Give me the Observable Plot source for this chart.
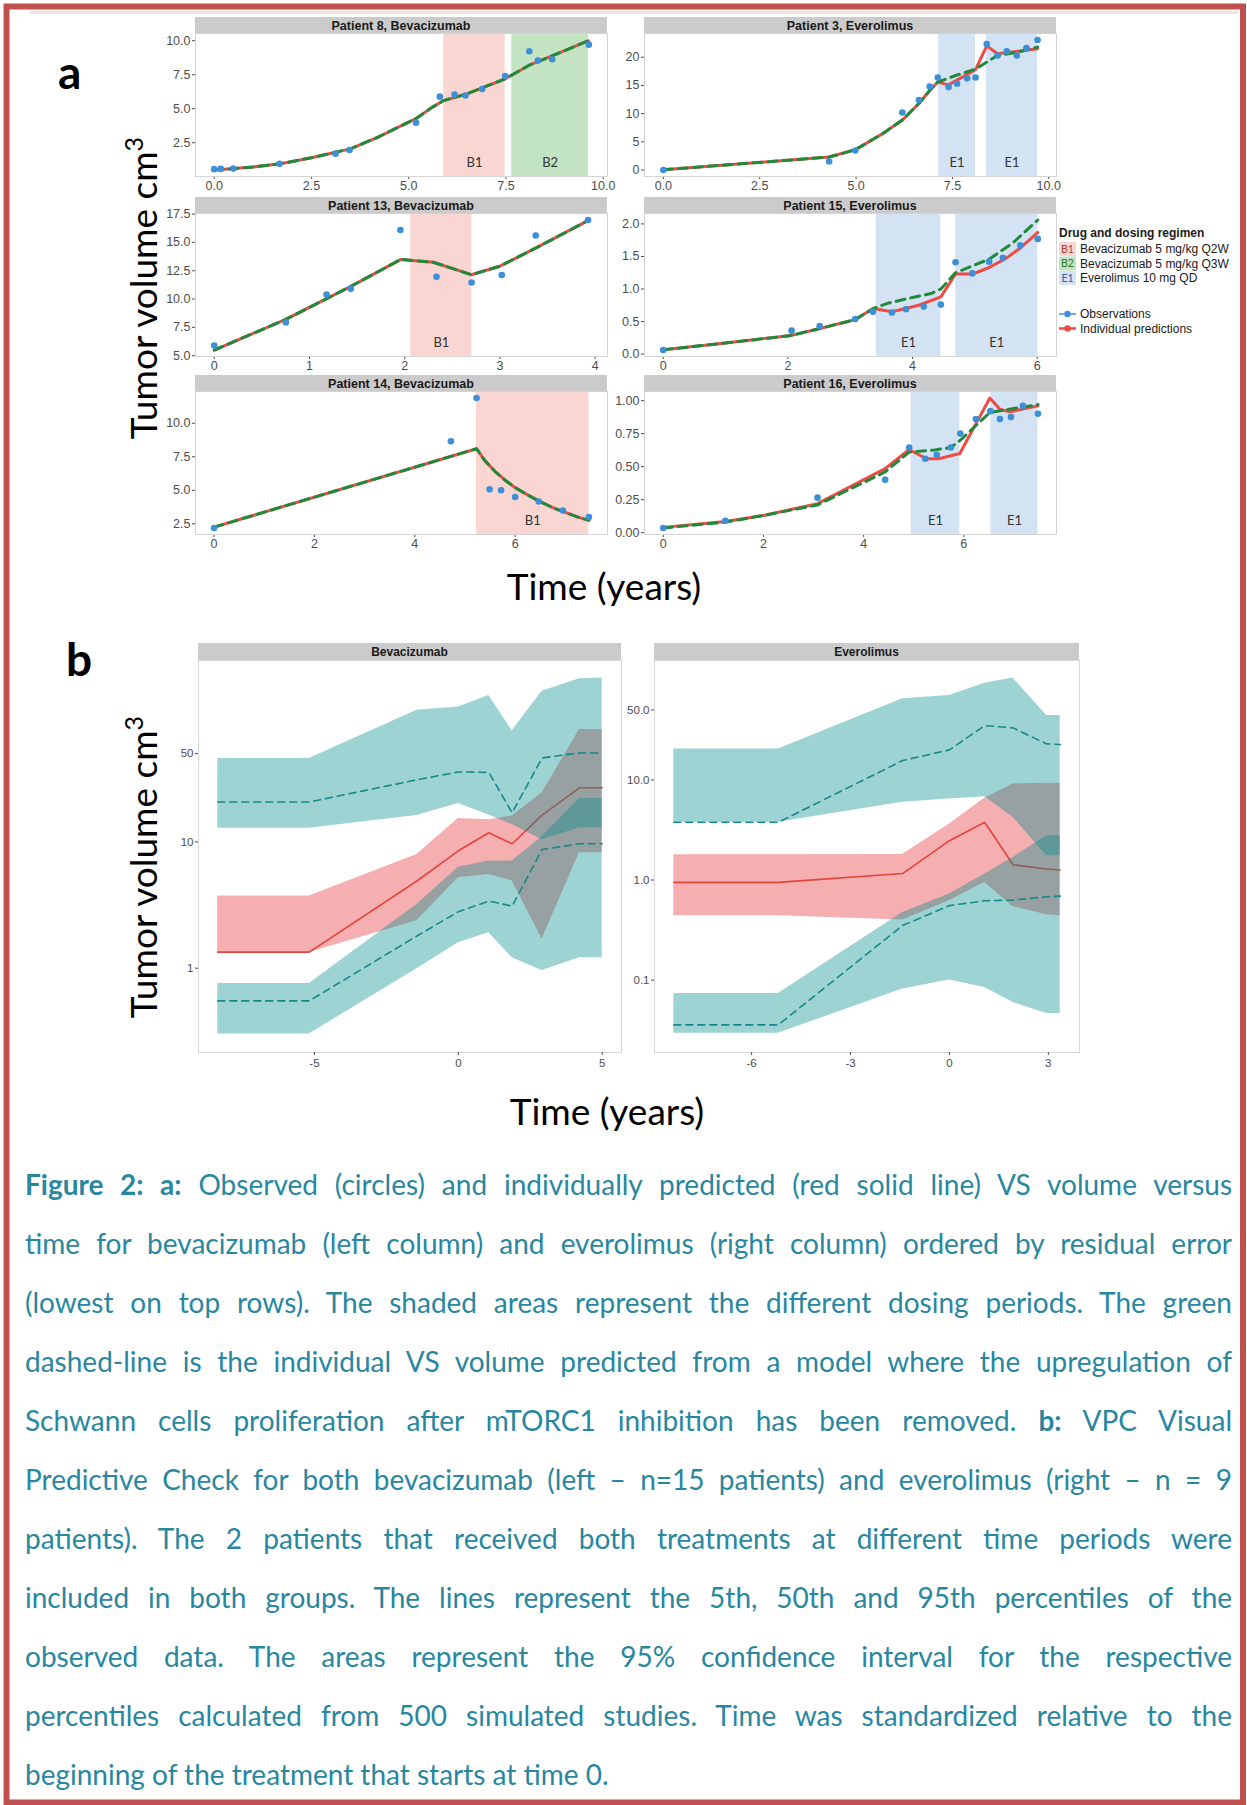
<!DOCTYPE html>
<html><head><meta charset="utf-8">
<script src="https://cdn.jsdelivr.net/npm/d3@7"></script>
<script src="https://cdn.jsdelivr.net/npm/@observablehq/plot@0.6"></script>
<style>
html,body{margin:0;padding:0;background:#fff;}
#root{position:relative;width:1247px;height:1805px;overflow:hidden;background:#fff;}
.pl{position:absolute;}
.pl svg{display:block;max-width:none;}
</style></head>
<body><div id="root"></div>
<script>
// ---------------- Panel a: individual fits ----------------
const p8ObsTime = [0,0.17,0.49,1.68,3.12,3.48,5.19,5.80,6.18,6.46,6.89,7.48,8.10,8.32,8.69,9.63];
const p8ObsVol  = [0.56,0.58,0.6,0.95,1.70,1.97,3.97,5.89,6.04,5.97,6.45,7.40,9.23,8.55,8.64,9.71];
const p8PredTime = [0,0.5,1,1.7,2.5,3.5,4.2,5.2,5.6,5.9,6.5,7.48,8.1,8.7,9.62];
const p8PredVol  = [0.5,0.6,0.72,0.95,1.4,2.05,2.9,4.3,5.1,5.6,6.1,7.2,8.2,8.9,10.0];
const p8AltTime = p8PredTime;
const p8AltVol  = p8PredVol;
const p8PerLabel = ["B1","B2"], p8PerStart = [5.9,7.65], p8PerEnd = [7.48,9.62];

const p3ObsTime = [0,4.30,4.98,6.20,6.63,6.91,7.12,7.40,7.62,7.88,8.10,8.39,8.67,8.91,9.17,9.42,9.71];
const p3ObsVol  = [0,1.52,3.45,10.2,12.4,14.8,16.4,14.7,15.3,16.25,16.4,22.35,20.3,21.05,20.3,21.6,23.06];
const p3PredTime = [0,4.3,4.98,5.68,6.2,6.63,6.91,7.12,7.4,8.1,8.39,8.67,9.71];
const p3PredVol  = [0.05,2.3,3.6,6.4,8.85,11.8,14.1,15.6,15.1,17.8,22.0,20.6,21.5];
const p3AltTime = [0,4.3,4.98,5.68,6.2,6.63,6.91,7.12,7.6,8.1,8.67,9.2,9.71];
const p3AltVol  = [0.05,2.3,3.6,6.4,8.85,11.8,14.1,15.6,16.8,17.9,20.3,20.9,21.8];
const p3PerLabel = ["E1","E1"], p3PerStart = [7.14,8.38], p3PerEnd = [8.10,9.71];

const p13ObsTime = [0,0.752,1.18,1.434,1.955,2.334,2.703,3.02,3.376,3.926];
const p13ObsVol  = [5.89,7.94,10.39,10.9,16.09,11.97,11.46,12.12,15.61,16.98];
const p13PredTime = [0,0.75,1.43,1.96,2.3,2.7,3.0,3.4,3.93];
const p13PredVol  = [5.5,8.2,11.1,13.5,13.25,12.15,12.9,14.6,16.95];
const p13AltTime = p13PredTime;
const p13AltVol  = p13PredVol;
const p13PerLabel = ["B1"], p13PerStart = [2.064], p13PerEnd = [2.706];

const p15ObsTime = [0,2.06,2.51,3.08,3.365,3.67,3.895,4.18,4.455,4.69,4.96,5.23,5.45,5.73,6.01];
const p15ObsVol  = [0.063,0.36,0.43,0.54,0.65,0.64,0.69,0.73,0.76,1.41,1.24,1.42,1.48,1.67,1.77];
const p15PredTime = [0,1,2.06,2.5,3.08,3.37,3.67,4.1,4.455,4.69,4.96,5.23,5.5,5.73,6.01];
const p15PredVol  = [0.065,0.17,0.287,0.39,0.53,0.70,0.65,0.75,0.88,1.23,1.23,1.33,1.47,1.63,1.87];
const p15AltTime = [0,1,2.06,2.5,3.08,3.37,3.6,4.0,4.3,4.455,4.69,5.23,5.6,6.01];
const p15AltVol  = [0.065,0.17,0.287,0.39,0.53,0.70,0.78,0.87,0.93,1.0,1.25,1.46,1.7,2.06];
const p15PerLabel = ["E1","E1"], p15PerStart = [3.418,4.693], p15PerEnd = [4.455,6.01];

const p14ObsTime = [0,4.72,5.23,5.49,5.72,6.0,6.47,6.95,7.47];
const p14ObsVol  = [2.18,8.66,11.88,5.07,5.0,4.5,4.16,3.49,3.0];
const p14PredTime = [0,5.23,5.4,5.6,5.8,6.0,6.25,6.5,6.75,7.0,7.25,7.47];
const p14PredVol  = [2.25,8.1,7.2,6.4,5.75,5.2,4.65,4.15,3.7,3.35,3.0,2.75];
const p14AltTime = p14PredTime;
const p14AltVol  = p14PredVol;
const p14PerLabel = ["B1"], p14PerStart = [5.23], p14PerEnd = [7.47];

const p16ObsTime = [0,1.24,3.08,4.43,4.91,5.23,5.46,5.74,5.93,6.24,6.53,6.72,6.94,7.18,7.48];
const p16ObsVol  = [0.035,0.09,0.265,0.40,0.645,0.56,0.59,0.645,0.75,0.86,0.92,0.86,0.875,0.96,0.90];
const p16PredTime = [0,1.24,2,3.08,4.43,4.91,5.25,5.5,5.92,6.52,6.72,6.92,7.48];
const p16PredVol  = [0.04,0.085,0.13,0.22,0.485,0.63,0.56,0.56,0.60,1.02,0.935,0.915,0.96];
const p16AltTime = [0,1.24,2,3.08,4.43,4.91,5.4,5.74,5.93,6.52,7.0,7.48];
const p16AltVol  = [0.035,0.08,0.13,0.21,0.46,0.61,0.625,0.645,0.70,0.91,0.94,0.97];
const p16PerLabel = ["E1","E1"], p16PerStart = [4.95,6.54], p16PerEnd = [5.92,7.48];

const ticks0to10 = [0,2.5,5,7.5,10];
const ticks0to6 = [0,2,4,6];

// ---------------- Panel b: VPC ----------------
const bevTime   = [-8.36,-5.18,-1.44,0,1.06,1.87,2.91,4.21,5.0];
const bevObs5   = [0.551,0.551,1.8,2.8,3.4,3.1,8.7,9.66,9.66];
const bevObs50  = [1.34,1.34,4.9,8.5,11.8,9.66,16.3,26.8,26.8];
const bevObs95  = [20.7,20.7,31,35.8,35.5,17.0,46.2,50.6,50.6];
const bevCI5Lo  = [0.301,0.301,0.99,1.59,1.91,1.21,0.96,1.21,1.21];
const bevCI5Hi  = [0.755,0.755,3.2,6.3,7.05,7.05,11.0,22.1,22.1];
const bevCI50Lo = [1.33,1.33,2.37,5.2,5.53,4.9,1.70,8.2,8.2];
const bevCI50Hi = [3.73,3.73,7.96,15.3,15.0,16.0,24.4,77.5,77.5];
const bevCI95Lo = [12.8,12.8,16.2,20.1,16.3,13.7,10.4,12.9,12.9];
const bevCI95Hi = [45.7,45.7,110,117,144,76,156,196,198];
const bevYTicks = [1,10,50], bevYLabels = ["1","10","50"];
const bevXTicks = [-5,0,5], bevXLabels = ["-5","0","5"];

const evTime   = [-8.36,-5.19,-1.42,0,1.07,1.93,2.95,3.36];
const evObs5   = [0.0357,0.0357,0.351,0.555,0.62,0.63,0.68,0.69];
const evObs50  = [0.946,0.946,1.16,2.47,3.77,1.42,1.29,1.26];
const evObs95  = [3.77,3.77,15.6,19.95,34.9,33.1,22.9,22.6];
const evCI5Lo  = [0.0294,0.0294,0.0813,0.1,0.0843,0.0597,0.0464,0.0464];
const evCI5Hi  = [0.0735,0.0735,0.474,0.724,1.15,1.68,2.77,2.77];
const evCI50Lo = [0.44,0.44,0.398,0.62,0.946,0.54,0.45,0.44];
const evCI50Hi = [1.79,1.79,1.8,3.63,6.55,9.12,9.25,9.25];
const evCI95Lo = [3.77,3.77,5.97,6.46,6.8,4.23,1.75,1.75];
const evCI95Hi = [20.4,20.4,64.6,69.7,92.5,104,44,44];
const evYTicks = [0.1,1,10,50], evYLabels = ["0.1","1.0","10.0","50.0"];
const evXTicks = [-6,-3,0,3], evXLabels = ["-6","-3","0","3"];

const legendRegimenKeys = ["B1","B2","E1"];
const legendRegimenText = ["Bevacizumab 5 mg/kg Q2W","Bevacizumab 5 mg/kg Q3W","Everolimus 10 mg QD"];
const legendSeriesText = ["Observations","Individual predictions"];

const captionLines = [
 "Figure 2: a: Observed (circles) and individually predicted (red solid line) VS volume versus",
 "time for bevacizumab (left column) and everolimus (right column) ordered by residual error",
 "(lowest on top rows). The shaded areas represent the different dosing periods. The green",
 "dashed-line is the individual VS volume predicted from a model where the upregulation of",
 "Schwann cells proliferation after mTORC1 inhibition has been removed. b: VPC Visual",
 "Predictive Check for both bevacizumab (left \u2013 n=15 patients) and everolimus (right \u2013 n = 9",
 "patients). The 2 patients that received both treatments at different time periods were",
 "included in both groups. The lines represent the 5th, 50th and 95th percentiles of the",
 "observed data. The areas represent the 95% confidence interval for the respective",
 "percentiles calculated from 500 simulated studies. Time was standardized relative to the",
 "beginning of the treatment that starts at time 0."
];

// ---------------- Layout & styles ----------------
const W = 1247, H = 1805;
const root = document.getElementById("root");
const regFill = {B1:"#f9d6d2", B2:"#c2e4c3", E1:"#d4e3f3"};
const regText = {B1:"#a8403c", B2:"#2d7a34", E1:"#2f5f9c"};
const tickFont = "'Liberation Sans', Arial, Helvetica, sans-serif";
const bigFont = "Lato, 'Open Sans', sans-serif";

const ov = d3.select(root).append("svg")
  .attr("width", W).attr("height", H)
  .style("position","absolute").style("left","0px").style("top","0px");

function addPlot(node, left, top, w, h) {
  const div = document.createElement("div");
  div.className = "pl";
  div.style.left = left + "px"; div.style.top = top + "px";
  div.style.width = w + "px"; div.style.height = h + "px";
  div.appendChild(node);
  root.appendChild(div);
}

function strip(x, y, w, h, label, fs) {
  ov.append("rect").attr("x", x).attr("y", y).attr("width", w).attr("height", h).attr("fill", "#cbcbcb");
  ov.append("text").attr("x", x + w/2).attr("y", y + h/2).attr("dy","0.36em")
    .attr("text-anchor","middle").attr("font-family", tickFont).attr("font-weight","bold")
    .attr("font-size", fs).attr("fill","#1a1a1a").text(label);
}

const COL_LEFT = [195, 644], PLOT_W = 412;
const ROW_TOP = [17, 197, 375], STRIP_H = 16, PLOT_H = 143;

function zip(a, b) { return a.map((t, i) => ({t, v: b[i]})); }

function patientPanel(p) {
  const left = COL_LEFT[p.col], stripTop = ROW_TOP[p.row], top = stripTop + STRIP_H;
  strip(left, stripTop, PLOT_W, STRIP_H, p.title, 12.5);
  const ML = 44, MR = 4, MB = 26;
  const periods = p.perLabel.map((l, i) => ({label: l, start: p.perStart[i], end: p.perEnd[i]}));
  const marks = [];
  for (const k of ["B1","B2","E1"]) {
    const sub = periods.filter(d => d.label === k);
    if (sub.length) marks.push(Plot.rect(sub, {x1: "start", x2: "end", fill: regFill[k]}));
  }
  marks.push(
    Plot.text(periods, {x: d => (d.start + d.end) / 2, text: "label", frameAnchor: "bottom", lineAnchor: "middle",
      dy: -14, fill: "#333", fontSize: 13, fontFamily: bigFont}),
    Plot.frame({stroke: "#d4d4d4"}),
    Plot.line(zip(p.predT, p.predV), {x: "t", y: "v", stroke: "#ef4b44", strokeWidth: 3}),
    Plot.line(zip(p.altT, p.altV), {x: "t", y: "v", stroke: "#1f8a3c", strokeWidth: 3, strokeDasharray: "9,6"}),
    Plot.dot(zip(p.obsT, p.obsV), {x: "t", y: "v", r: 3.3, fill: "#3d8fd8", stroke: "none"})
  );
  const chart = Plot.plot({
    width: PLOT_W + ML + MR, height: PLOT_H + MB,
    marginLeft: ML, marginRight: MR, marginTop: 0, marginBottom: MB,
    style: {fontFamily: tickFont, fontSize: "12.5px", color: "#4d4d4d", background: "transparent", overflow: "visible"},
    x: {domain: p.xDomain, ticks: p.xTicks, tickFormat: d3.format(p.xFmt), tickSize: 3, tickPadding: 2, label: null},
    y: {domain: p.yDomain, ticks: p.yTicks, tickFormat: d3.format(p.yFmt), tickSize: 3, tickPadding: 2, label: null},
    marks
  });
  addPlot(chart, left - ML, top, PLOT_W + ML + MR, PLOT_H + MB);
}

patientPanel({title: "Patient 8, Bevacizumab", col: 0, row: 0, xDomain: [-0.48, 10.11], xTicks: ticks0to10, xFmt: ".1f",
  yDomain: [0.02, 10.53], yTicks: [2.5,5,7.5,10], yFmt: ".1f", obsT: p8ObsTime, obsV: p8ObsVol, predT: p8PredTime, predV: p8PredVol,
  altT: p8AltTime, altV: p8AltVol, perLabel: p8PerLabel, perStart: p8PerStart, perEnd: p8PerEnd});
patientPanel({title: "Patient 3, Everolimus", col: 1, row: 0, xDomain: [-0.49, 10.2], xTicks: ticks0to10, xFmt: ".1f",
  yDomain: [-1.15, 24.2], yTicks: [0,5,10,15,20], yFmt: "d", obsT: p3ObsTime, obsV: p3ObsVol, predT: p3PredTime, predV: p3PredVol,
  altT: p3AltTime, altV: p3AltVol, perLabel: p3PerLabel, perStart: p3PerStart, perEnd: p3PerEnd});
patientPanel({title: "Patient 13, Bevacizumab", col: 0, row: 1, xDomain: [-0.197, 4.13], xTicks: [0,1,2,3,4], xFmt: "d",
  yDomain: [4.93, 17.55], yTicks: [5,7.5,10,12.5,15,17.5], yFmt: ".1f", obsT: p13ObsTime, obsV: p13ObsVol, predT: p13PredTime, predV: p13PredVol,
  altT: p13AltTime, altV: p13AltVol, perLabel: p13PerLabel, perStart: p13PerStart, perEnd: p13PerEnd});
patientPanel({title: "Patient 15, Everolimus", col: 1, row: 1, xDomain: [-0.30, 6.31], xTicks: ticks0to6, xFmt: "d",
  yDomain: [-0.037, 2.16], yTicks: [0,0.5,1,1.5,2], yFmt: ".1f", obsT: p15ObsTime, obsV: p15ObsVol, predT: p15PredTime, predV: p15PredVol,
  altT: p15AltTime, altV: p15AltVol, perLabel: p15PerLabel, perStart: p15PerStart, perEnd: p15PerEnd});
patientPanel({title: "Patient 14, Bevacizumab", col: 0, row: 2, xDomain: [-0.37, 7.84], xTicks: ticks0to6, xFmt: "d",
  yDomain: [1.70, 12.37], yTicks: [2.5,5,7.5,10], yFmt: ".1f", obsT: p14ObsTime, obsV: p14ObsVol, predT: p14PredTime, predV: p14PredVol,
  altT: p14AltTime, altV: p14AltVol, perLabel: p14PerLabel, perStart: p14PerStart, perEnd: p14PerEnd});
patientPanel({title: "Patient 16, Everolimus", col: 1, row: 2, xDomain: [-0.374, 7.85], xTicks: ticks0to6, xFmt: "d",
  yDomain: [-0.014, 1.069], yTicks: [0,0.25,0.5,0.75,1], yFmt: ".2f", obsT: p16ObsTime, obsV: p16ObsVol, predT: p16PredTime, predV: p16PredVol,
  altT: p16AltTime, altV: p16AltVol, perLabel: p16PerLabel, perStart: p16PerStart, perEnd: p16PerEnd});

// ---------------- VPC panels ----------------
function vpcPanel(v) {
  const stripTop = 643, sH = 17, top = stripTop + sH, h = 392;
  strip(v.left, stripTop, v.w, sH, v.title, 12);
  const ML = 38, MR = 4, MB = 26;
  const rows = v.time.map((t, i) => ({t, o5: v.o5[i], o50: v.o50[i], o95: v.o95[i],
    c5lo: v.c5lo[i], c5hi: v.c5hi[i], c50lo: v.c50lo[i], c50hi: v.c50hi[i], c95lo: v.c95lo[i], c95hi: v.c95hi[i]}));
  const yLab = new Map(v.yTicks.map((y, i) => [y, v.yLabels[i]]));
  const xLab = new Map(v.xTicks.map((x, i) => [x, v.xLabels[i]]));
  const chart = Plot.plot({
    width: v.w + ML + MR, height: h + MB, marginLeft: ML, marginRight: MR, marginTop: 0, marginBottom: MB,
    style: {fontFamily: tickFont, fontSize: "11.5px", color: "#4d4d4d", background: "transparent", overflow: "visible"},
    x: {domain: v.xDomain},
    y: {type: "log", domain: v.yDomain},
    marks: [
      Plot.areaY(rows, {x: "t", y1: "c50lo", y2: "c50hi", fill: "#e31a1c", fillOpacity: 0.35}),
      Plot.line(rows, {x: "t", y: "o50", stroke: "#e4443b", strokeWidth: 1.6}),
      Plot.areaY(rows, {x: "t", y1: "c5lo", y2: "c5hi", fill: "#008b8b", fillOpacity: 0.38}),
      Plot.areaY(rows, {x: "t", y1: "c95lo", y2: "c95hi", fill: "#008b8b", fillOpacity: 0.38}),
      Plot.line(rows, {x: "t", y: "o5", stroke: "#17898a", strokeWidth: 1.6, strokeDasharray: "7,5"}),
      Plot.line(rows, {x: "t", y: "o95", stroke: "#17898a", strokeWidth: 1.6, strokeDasharray: "7,5"}),
      Plot.frame({stroke: "#d9d9d9"}),
      Plot.axisY(v.yTicks, {text: d => yLab.get(d), tickSize: 3, tickPadding: 2, label: null}),
      Plot.axisX(v.xTicks, {text: d => xLab.get(d), tickSize: 3, tickPadding: 3, label: null})
    ]
  });
  addPlot(chart, v.left - ML, top, v.w + ML + MR, h + MB);
}

vpcPanel({title: "Bevacizumab", left: 198, w: 423, xDomain: [-9.03, 5.67], xTicks: bevXTicks, xLabels: bevXLabels,
  yDomain: [0.215, 273], yTicks: bevYTicks, yLabels: bevYLabels, time: bevTime,
  o5: bevObs5, o50: bevObs50, o95: bevObs95, c5lo: bevCI5Lo, c5hi: bevCI5Hi, c50lo: bevCI50Lo, c50hi: bevCI50Hi, c95lo: bevCI95Lo, c95hi: bevCI95Hi});
vpcPanel({title: "Everolimus", left: 654, w: 425, xDomain: [-8.946, 3.946], xTicks: evXTicks, xLabels: evXLabels,
  yDomain: [0.0189, 156], yTicks: evYTicks, yLabels: evYLabels, time: evTime,
  o5: evObs5, o50: evObs50, o95: evObs95, c5lo: evCI5Lo, c5hi: evCI5Hi, c50lo: evCI50Lo, c50hi: evCI50Hi, c95lo: evCI95Lo, c95hi: evCI95Hi});

// ---------------- Legend ----------------
const lg = ov.append("g").attr("font-family", tickFont).attr("font-size", 12).attr("fill", "#1a1a1a");
lg.append("text").attr("x", 1059).attr("y", 237).attr("font-weight", "bold").text("Drug and dosing regimen");
legendRegimenKeys.forEach((k, i) => {
  const cy = 249 + i * 14.5;
  lg.append("rect").attr("x", 1059).attr("y", cy - 7).attr("width", 17).attr("height", 14).attr("fill", regFill[k]);
  lg.append("text").attr("x", 1067.5).attr("y", cy).attr("dy", "0.35em").attr("text-anchor", "middle")
    .attr("font-size", 10.5).attr("font-family", bigFont).attr("fill", regText[k]).text(k);
  lg.append("text").attr("x", 1080).attr("y", cy).attr("dy", "0.35em").text(legendRegimenText[i]);
});
const seriesColors = ["#3d8fd8", "#ef4b44"];
legendSeriesText.forEach((s, i) => {
  const cy = 314 + i * 14.5;
  lg.append("line").attr("x1", 1059).attr("x2", 1076).attr("y1", cy).attr("y2", cy)
    .attr("stroke", seriesColors[i]).attr("stroke-width", i ? 2.5 : 1.5);
  lg.append("circle").attr("cx", 1067.5).attr("cy", cy).attr("r", 3.2).attr("fill", seriesColors[i]);
  lg.append("text").attr("x", 1080).attr("y", cy).attr("dy", "0.35em").text(s);
});

// ---------------- Big labels ----------------
function bigText(x, y, opts = {}) {
  const t = ov.append("text").attr("x", x).attr("y", y).attr("font-family", bigFont)
    .attr("font-size", opts.size || 37).attr("fill", "#000").attr("text-anchor", opts.anchor || "middle");
  if (opts.bold) t.attr("font-weight", "bold");
  if (opts.rotate) t.attr("x", 0).attr("y", 0).attr("transform", `translate(${x},${y}) rotate(-90)`);
  return t;
}
bigText(58, 89, {size: 46, bold: true, anchor: "start"}).text("a");
bigText(66, 676, {size: 46, bold: true, anchor: "start"}).text("b");
for (const cy of [288, 867]) {
  const t = bigText(157, cy, {rotate: true});
  t.append("tspan").text("Tumor volume cm");
  t.append("tspan").attr("font-size", 25).attr("dy", -14).text("3");
}
bigText(604, 600).text("Time (years)");
bigText(607, 1125).text("Time (years)");

// ---------------- Caption ----------------
const capX = 25, capW = 1207, capBase0 = 1195, capStep = 58.95;
const capG = ov.append("g").attr("font-family", bigFont).attr("font-size", 28).attr("fill", "#28879f");
const capNodes = captionLines.map((line, i) => {
  const t = capG.append("text").attr("x", capX).attr("y", capBase0 + i * capStep).attr("xml:space", "preserve");
  const parts = line.split(/(Figure 2: a:|\bb:)/);
  parts.forEach((s, j) => { if (s) { const ts = t.append("tspan").text(s); if (j % 2 === 1) ts.attr("font-weight", "bold"); } });
  return t;
});
function justify() {
  capNodes.forEach((t, i) => {
    if (i === capNodes.length - 1) return;
    t.attr("word-spacing", null).attr("font-size", null);
    let w0 = t.node().getComputedTextLength();
    if (w0 > capW) { t.attr("font-size", (28 * capW / w0 * 0.985).toFixed(2)); w0 = t.node().getComputedTextLength(); }
    const n = (captionLines[i].match(/ /g) || []).length;
    if (n > 0) t.attr("word-spacing", ((capW - w0) / n).toFixed(2));
  });
}
justify();
if (document.fonts && document.fonts.ready) document.fonts.ready.then(justify);

// ---------------- Page frame ----------------
ov.append("rect").attr("x", 30).attr("y", 11).attr("width", 1208).attr("height", 3).attr("fill", "#f5e1e0");
ov.append("rect").attr("x", 6.5).attr("y", 6.5).attr("width", 1236.5).attr("height", 1796)
  .attr("fill", "none").attr("stroke", "#c0504d").attr("stroke-width", 6);
</script>
</body></html>
